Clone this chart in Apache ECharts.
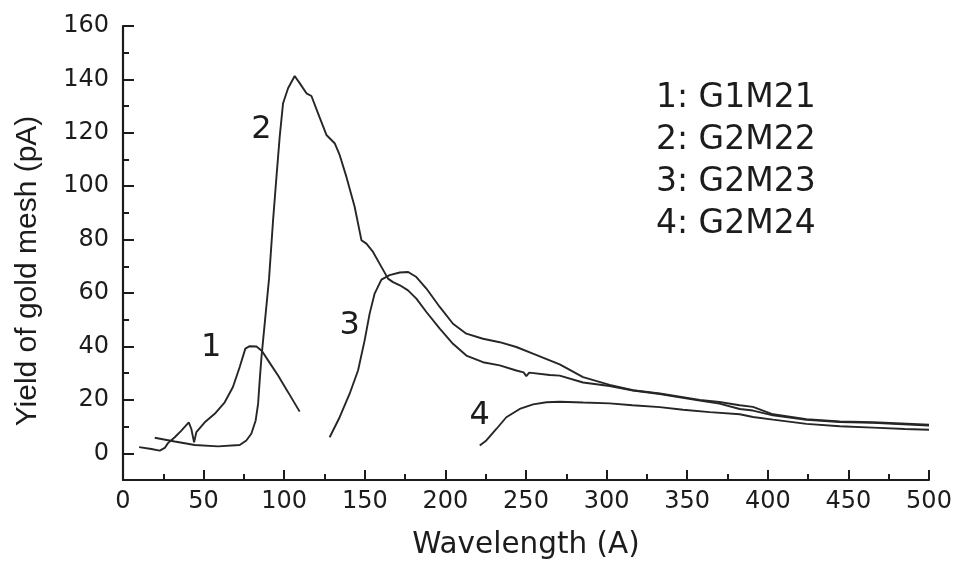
<!DOCTYPE html>
<html>
<head>
<meta charset="utf-8">
<title>Yield of gold mesh</title>
<script src="https://cdn.jsdelivr.net/npm/echarts@6/dist/echarts.min.js"></script>
<style>
  html, body { margin: 0; padding: 0; background: #ffffff; }
  #chart { width: 955px; height: 563px; }
</style>
</head>
<body>
<div id="chart"></div>
<script>
// Photo-yield of the gold mesh versus wavelength for four grating / mirror combinations.

const seriesNames = ['1: G1M21', '2: G2M22', '3: G2M23', '4: G2M24'];
const curveTags = ['1', '2', '3', '4'];

// G1M21
const g1m21X = [10, 17.6, 22.8, 25.9, 27.9, 32.1, 36.2, 40.8, 42.4, 44.1, 45.5, 50.7, 56.9, 63.1, 68.2, 72.4, 75.9, 78.6, 82.8, 86.2, 90, 96.2, 102.4, 109.6];
const g1m21Y = [2.3, 1.6, 1.0, 2.0, 3.8, 6.0, 8.5, 11.6, 9.1, 4.1, 7.9, 11.6, 14.8, 19.1, 24.8, 32.3, 39.2, 40.1, 40.0, 38.3, 34.8, 29.1, 22.9, 15.6];

// G2M22
const g2m22X = [19.7, 32.1, 44.5, 58.9, 72.4, 76.5, 79.6, 82.3, 83.8, 84.8, 85.9, 87.5, 90.6, 93.1, 95.2, 97.2, 99.3, 102.4, 106.5, 109.6, 113.8, 116.9, 121, 126.2, 131.3, 134.4, 138.6, 143.7, 147.9, 151, 155.1, 160.3, 164.4, 167.5, 171.8, 176.8, 182, 188.2, 196.5, 204.7, 213, 223.3, 233.7, 244, 248.5, 250.2, 252, 264.7, 270.9, 285.4, 301.9, 316.4, 333, 357.8, 370, 382.6, 390.8, 403.2, 424, 444.6, 465.3, 500];
const g2m22Y = [5.8, 4.4, 3.1, 2.6, 3.1, 4.8, 7.3, 12.3, 18.5, 27.3, 36, 46, 65.4, 87.3, 103.5, 118.5, 131.1, 136.7, 141.3, 138.6, 134.8, 133.8, 127.3, 119.2, 116.1, 111.7, 103.5, 92.3, 79.8, 78.5, 75.4, 69.8, 65.4, 64.1, 62.9, 61, 57.9, 52.9, 46.7, 41, 36.6, 34.1, 32.9, 31, 30.3, 28.9, 30.2, 29.3, 29.1, 26.5, 25.2, 23.5, 22.2, 19.7, 18.6, 16.6, 16.0, 14.2, 12.5, 11.7, 11.4, 10.4];

// G2M23
const g2m23X = [128.2, 134.4, 140.6, 145.8, 149.9, 153, 156.1, 160.3, 165.4, 171.7, 176.9, 182, 188.2, 196.5, 204.7, 213, 223.3, 233.7, 244, 254.3, 264.7, 270.9, 285.4, 301.9, 316.4, 333, 357.8, 370, 382.6, 390.8, 403.2, 424, 444.6, 465.3, 500];
const g2m23Y = [6, 13.5, 22.3, 31, 42.3, 52.3, 59.8, 65, 66.7, 67.7, 67.9, 66, 61.7, 54.8, 48.5, 44.8, 42.9, 41.6, 39.8, 37.3, 34.8, 33.3, 28.5, 25.6, 23.6, 22.4, 20.0, 19.2, 18.0, 17.4, 14.6, 12.8, 11.9, 11.6, 10.7];

// G2M24
const g2m24X = [221.3, 225.4, 231.6, 237.8, 246.1, 254.4, 262.7, 270.9, 285.4, 301.9, 316, 333, 347.4, 364, 382.6, 390.8, 403.2, 424, 444.6, 465.3, 485, 500];
const g2m24Y = [2.9, 4.8, 9.1, 13.5, 16.6, 18.3, 19.1, 19.3, 19.0, 18.7, 18.0, 17.3, 16.3, 15.4, 14.6, 13.6, 12.6, 11.0, 10.1, 9.6, 9.1, 8.8];

// Where each curve's number tag sits, in (wavelength, yield) units
const tagX = [54.7, 85.9, 140.6, 221.3];
const tagY = [39.5, 121, 47.6, 14.1];

// Axis ticks and labels
const xTicks = [0, 50, 100, 150, 200, 250, 300, 350, 400, 450, 500];
const yLabels = [0, 20, 40, 60, 80, 100, 120, 140, 160];
const yMinorTicks = [10, 30, 50, 70, 90, 110, 130, 150];

const curvesX = [g1m21X, g2m22X, g2m23X, g2m24X];
const curvesY = [g1m21Y, g2m22Y, g2m23Y, g2m24Y];

const INK = '#1c1c1c';
const LINE = '#262626';
const TEXT_FONT = 'DejaVu Sans';

const pairs = (xs, ys) => xs.map((x, i) => [x, ys[i]]);

const series = seriesNames.map((name, i) => ({
  name: name,
  type: 'line',
  yAxisIndex: 0,
  data: pairs(curvesX[i], curvesY[i]),
  showSymbol: false,
  symbol: 'none',
  smooth: false,
  lineStyle: { color: LINE, width: 1.9 },
  itemStyle: { color: LINE },
  emphasis: { disabled: true },
  markPoint: {
    symbol: 'circle',
    symbolSize: 1,
    itemStyle: { color: 'transparent' },
    label: {
      show: true,
      position: 'inside',
      formatter: curveTags[i],
      fontFamily: TEXT_FONT,
      fontSize: 32,
      color: INK
    },
    emphasis: { disabled: true },
    data: [{ coord: [tagX[i], tagY[i]] }]
  }
}));

const chart = echarts.init(document.getElementById('chart'), null, { renderer: 'canvas' });

chart.setOption({
  animation: false,
  backgroundColor: '#ffffff',
  grid: {
    left: 123, right: 26, top: 26, bottom: 83,
    containLabel: false,
    outerBoundsMode: 'none'
  },
  legend: {
    orient: 'vertical',
    left: 646,
    top: 77,
    icon: 'none',
    itemWidth: 0,
    itemHeight: 0,
    itemGap: 9,
    selectedMode: false,
    data: seriesNames,
    textStyle: { fontFamily: TEXT_FONT, fontSize: 33, lineHeight: 32, color: INK }
  },
  xAxis: {
    type: 'value',
    min: 0,
    max: 500,
    interval: 50,
    name: 'Wavelength (A)',
    nameLocation: 'middle',
    nameGap: 50,
    nameTextStyle: { fontFamily: TEXT_FONT, fontSize: 29.5, color: INK },
    axisLine: { show: true, onZero: false, lineStyle: { color: INK, width: 2 } },
    axisTick: { show: true, inside: true, length: 10, lineStyle: { color: INK, width: 2 } },
    minorTick: { show: true, splitNumber: 2, length: 6, lineStyle: { color: INK, width: 2 } },
    axisLabel: {
      margin: 10,
      fontFamily: TEXT_FONT,
      fontSize: 24,
      color: INK,
      customValues: xTicks
    },
    splitLine: { show: false },
    minorSplitLine: { show: false }
  },
  yAxis: [
    {
      type: 'value',
      min: -10,
      max: 160,
      name: 'Yield of gold mesh (pA)',
      nameLocation: 'middle',
      nameRotate: 90,
      nameGap: 80,
      nameTextStyle: { fontFamily: 'Liberation Sans', fontSize: 30, color: INK, padding: [0, 36, 0, 0] },
      axisLine: { show: true, onZero: false, lineStyle: { color: INK, width: 2.2 } },
      axisTick: { show: true, inside: true, length: 11, customValues: yLabels, lineStyle: { color: INK, width: 2 } },
      axisLabel: {
        margin: 14,
        fontFamily: TEXT_FONT,
        fontSize: 24,
        color: INK,
        customValues: yLabels
      },
      splitLine: { show: false }
    },
    {
      // Short minor ticks between the labelled values
      type: 'value',
      min: -10,
      max: 160,
      position: 'left',
      axisLine: { show: false },
      axisTick: { show: true, inside: true, length: 6, customValues: yMinorTicks, lineStyle: { color: INK, width: 2 } },
      axisLabel: { show: false },
      splitLine: { show: false }
    }
  ],
  tooltip: { show: false },
  series: series
});
</script>
</body>
</html>
